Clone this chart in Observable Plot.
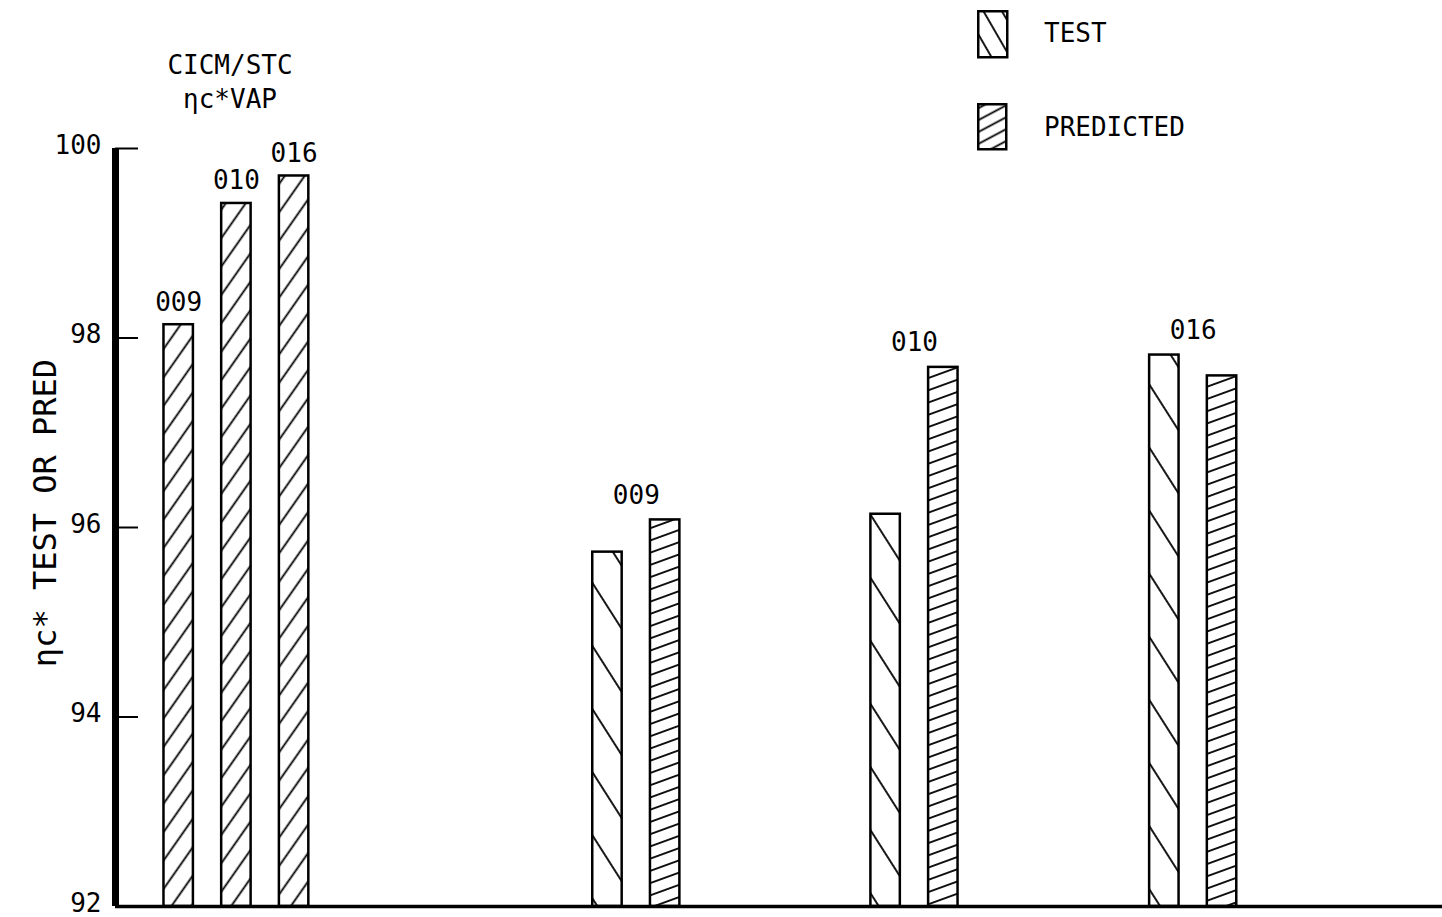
<!DOCTYPE html>
<html>
<head>
<meta charset="utf-8">
<script src="https://cdn.jsdelivr.net/npm/d3@7"></script>
<script src="https://cdn.jsdelivr.net/npm/@observablehq/plot@0.6"></script>
<style>
  html, body { margin: 0; padding: 0; background: #fff; }
  #wrap { position: relative; width: 1442px; height: 917px; font-family: "DejaVu Sans Mono", monospace; color: #000; overflow: hidden; }
  #wrap svg.plot { position: absolute; left: 0; top: 0; }
  .ov { position: absolute; font-size: 26px; line-height: 34px; white-space: nowrap; }
  #ylab { position: absolute; left: 45px; top: 513px; font-size: 32px; line-height: 36px; white-space: nowrap;
          transform: translate(-50%, -50%) rotate(-90deg); }
</style>
</head>
<body>
<div id="wrap">
  <div class="ov" style="left:130px; top:48px; width:200px; text-align:center;">CICM/STC<br>ηc*VAP</div>
  <div id="ylab"></div>
  <svg class="sw" style="position:absolute; left:977px; top:10px;" width="32" height="49"><rect x="1.25" y="1.25" width="29" height="46" fill="url(#pat-test-leg)" stroke="#000" stroke-width="2.5"/></svg>
  <div class="ov" style="left:1044px; top:16px;">TEST</div>
  <svg class="sw" style="position:absolute; left:977px; top:103px;" width="31" height="48"><rect x="1.25" y="1.25" width="28" height="45" fill="url(#pat-pred-leg)" stroke="#000" stroke-width="2.5"/></svg>
  <div class="ov" style="left:1044px; top:110px;">PREDICTED</div>
</div>
<script>
// ---- data ----
const groupNames = ["CICM/STC", "009", "010", "016"];
const vapRuns = ["009", "010", "016"];
const vapValues = [98.14, 99.42, 99.71];
const testRuns = ["009", "010", "016"];
const testValues = [95.74, 96.14, 97.82];
const predValues = [96.08, 97.69, 97.60];
const yTicks = [92, 94, 96, 98, 100];
const yLabel = "ηc* TEST OR PRED";

// ---- layout (scale units: one unit = bar pitch inside a group) ----
const groupStart = [0, 7.43, 12.25, 17.08];
const barW = 0.51;
const xDomain = [-1.095, 21.9];
const yBase = yTicks[0];

document.getElementById("ylab").textContent = yLabel;

const vapRows = vapRuns.map((r, i) => ({run: r, value: vapValues[i], c: groupStart[0] + i}));
const testRows = testRuns.map((r, i) => ({run: r, value: testValues[i], c: groupStart[i + 1]}));
const predRows = testRuns.map((r, i) => ({run: r, value: predValues[i], c: groupStart[i + 1] + 1}));
const groupLabels = testRuns.map((r, i) => ({run: r, c: groupStart[i + 1] + 0.5, top: Math.max(testValues[i], predValues[i])}));

const barOpts = (pat) => ({
  x1: d => d.c - barW / 2, x2: d => d.c + barW / 2,
  y1: yBase, y2: "value",
  fill: `url(#${pat})`, stroke: "#000", strokeWidth: 2.5
});

const chart = Plot.plot({
  width: 1442, height: 917,
  marginTop: 148, marginBottom: 11, marginLeft: 115, marginRight: 0,
  x: {domain: xDomain, axis: null},
  y: {domain: [92, 100]},
  style: {fontFamily: "DejaVu Sans Mono, monospace", fontSize: "26px", color: "#000", background: "transparent", overflow: "visible"},
  marks: [
    Plot.axisY({ticks: yTicks, tickSize: 0, tickPadding: 14, tickFormat: d => String(d), fontSize: 26, dy: -3, label: null}),
    Plot.axisY({ticks: yTicks, tickSize: -23, tickFormat: () => "", label: null, strokeWidth: 2}),
    Plot.rectY(vapRows, barOpts("pat-vap")),
    Plot.rectY(testRows, barOpts("pat-test")),
    Plot.rectY(predRows, barOpts("pat-pred")),
    Plot.text(vapRows, {x: "c", y: "value", text: "run", lineAnchor: "bottom", dy: -14, fontSize: 26}),
    Plot.text(groupLabels, {x: "c", y: "top", text: "run", lineAnchor: "bottom", dy: -16, fontSize: 26}),
    Plot.ruleX([xDomain[0]], {strokeWidth: 7}),
    Plot.ruleY([yBase], {strokeWidth: 3.5})
  ]
});
chart.classList.add("plot");

// hatch patterns
const defs = d3.select(chart).insert("defs", ":first-child");
function hatch(id, angle, spacing, width, shift = 0) {
  const p = defs.append("pattern").attr("id", id).attr("patternUnits", "userSpaceOnUse")
    .attr("width", 10).attr("height", spacing).attr("patternTransform", `rotate(${angle}) translate(0,${shift})`);
  p.append("rect").attr("width", 10).attr("height", spacing).attr("fill", "#fff");
  p.append("line").attr("x1", -1).attr("x2", 11).attr("y1", spacing / 2).attr("y2", spacing / 2)
    .attr("stroke", "#000").attr("stroke-width", width);
}
hatch("pat-test", 57.5, 33.9, 1.8);
hatch("pat-vap", -55, 16.3, 1.8);
hatch("pat-pred", -20, 11.5, 1.8);
hatch("pat-test-leg", 60, 16, 1.8, 3);
hatch("pat-pred-leg", -28, 10.5, 1.8);

document.getElementById("wrap").appendChild(chart);
</script>
</body>
</html>
